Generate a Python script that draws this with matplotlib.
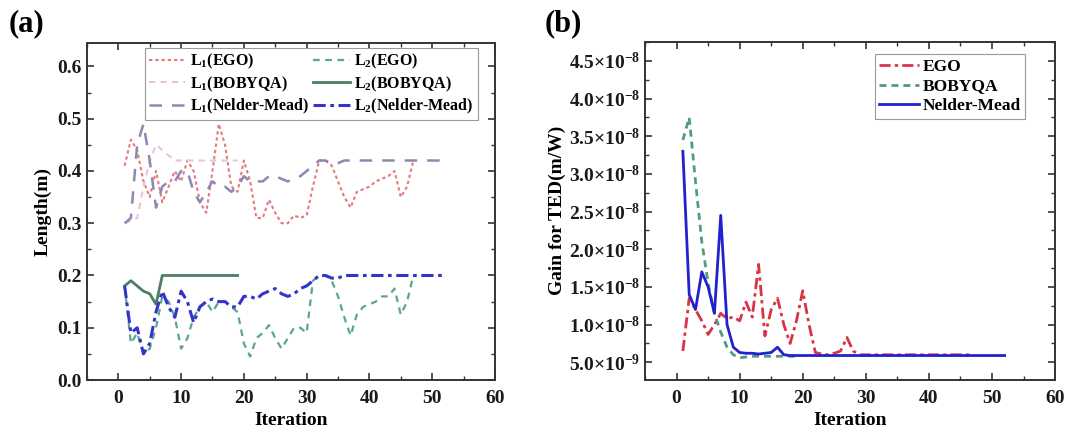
import numpy as np
import matplotlib
matplotlib.use("Agg")
import matplotlib.pyplot as plt
from matplotlib.ticker import MultipleLocator, FixedLocator, FuncFormatter

# ---------------- data (panel a: lengths in m) ----------------
L1_EGO = [0.41, 0.46, 0.44, 0.38, 0.35, 0.40, 0.34, 0.37, 0.40, 0.38,
          0.42, 0.40, 0.34, 0.32, 0.40, 0.49, 0.45, 0.37, 0.36, 0.42,
          0.38, 0.31, 0.31, 0.345, 0.32, 0.30, 0.30, 0.315, 0.31, 0.315,
          0.37, 0.42, 0.42, 0.41, 0.38, 0.35, 0.33, 0.36, 0.365, 0.37,
          0.38, 0.385, 0.39, 0.40, 0.35, 0.37, 0.42]
L2_EGO = [0.18, 0.07, 0.09, 0.05, 0.06, 0.10, 0.16, 0.15, 0.12, 0.06,
          0.08, 0.12, 0.14, 0.15, 0.13, 0.15, 0.15, 0.14, 0.13, 0.07,
          0.045, 0.08, 0.09, 0.105, 0.08, 0.06, 0.08, 0.10, 0.10, 0.09,
          0.19, 0.20, 0.20, 0.19, 0.16, 0.12, 0.085, 0.125, 0.14, 0.145,
          0.15, 0.16, 0.16, 0.175, 0.125, 0.15, 0.20]
L1_BOBYQA = [0.30, 0.305, 0.31, 0.37, 0.42, 0.45, 0.44, 0.43, 0.42, 0.42,
             0.42, 0.42, 0.42, 0.42, 0.42, 0.42, 0.42, 0.42, 0.42]
L2_BOBYQA = [0.18, 0.19, 0.18, 0.17, 0.165, 0.145, 0.20, 0.20, 0.20, 0.20,
             0.20, 0.20, 0.20, 0.20, 0.20, 0.20, 0.20, 0.20, 0.20]
L1_NM = [0.30, 0.31, 0.45, 0.49, 0.42, 0.33, 0.37, 0.38, 0.38, 0.40,
         0.40, 0.36, 0.34, 0.36, 0.38, 0.37, 0.37, 0.36, 0.37, 0.39,
         0.38, 0.38, 0.38, 0.39, 0.39, 0.385, 0.38, 0.385, 0.39, 0.40,
         0.41, 0.42, 0.42, 0.415, 0.415, 0.42, 0.42, 0.42, 0.42, 0.42,
         0.42, 0.42, 0.42, 0.42, 0.42, 0.42, 0.42, 0.42, 0.42, 0.42,
         0.42, 0.42]
L2_NM = [0.18, 0.09, 0.10, 0.05, 0.07, 0.13, 0.17, 0.14, 0.12, 0.17,
         0.15, 0.11, 0.14, 0.15, 0.155, 0.15, 0.15, 0.14, 0.14, 0.16,
         0.16, 0.155, 0.165, 0.17, 0.175, 0.165, 0.16, 0.165, 0.175, 0.18,
         0.19, 0.20, 0.20, 0.195, 0.195, 0.20, 0.20, 0.20, 0.20, 0.20,
         0.20, 0.20, 0.20, 0.20, 0.20, 0.20, 0.20, 0.20, 0.20, 0.20,
         0.20, 0.20]

# ---------------- data (panel b: gain, units of 1e-9 m/W) ----------------
GAIN_EGO = [6.5, 13.5, 12, 10.5, 8.7, 10, 11.5, 10.8, 11, 10.5,
            13, 11, 18, 8.5, 12, 13.5, 10, 7.5, 10.5, 14.5,
            10, 6.3, 6.1, 6.0, 6.2, 6.5, 8.3, 6.5, 6.0, 6.0,
            6.0, 6.0, 6.0, 6.0, 6.0, 6.0, 6.0, 6.0, 6.0, 6.0,
            6.0, 6.0, 6.0, 6.0, 6.0, 6.0, 6.0]
GAIN_BOBYQA = [34.5, 37.5, 29, 21, 15.5, 11.5, 9, 7, 6, 5.6,
               5.7, 5.8, 5.8, 5.8, 5.8, 5.8, 5.8, 5.8, 5.8]
GAIN_NM = [33, 14, 12, 17, 15, 11.5, 24.5, 10, 7, 6.3,
           6.2, 6.2, 6.1, 6.2, 6.3, 7.0, 6.0] + [5.9] * 35

GAIN_UNIT = 1e-9
XTICKS = [0, 10, 20, 30, 40, 50, 60]
YTICKS_A = [0.0, 0.1, 0.2, 0.3, 0.4, 0.5, 0.6]
YTICKS_B = [5e-9, 1e-8, 1.5e-8, 2e-8, 2.5e-8, 3e-8, 3.5e-8, 4e-8, 4.5e-8]


def it(vals):
    return np.arange(1, len(vals) + 1)


# ---------------- style ----------------
plt.rcParams['font.family'] = ['Liberation Serif', 'DejaVu Serif']
plt.rcParams['font.weight'] = 'bold'
plt.rcParams['mathtext.fontset'] = 'custom'
plt.rcParams['mathtext.rm'] = 'Liberation Serif:bold'
plt.rcParams['mathtext.it'] = 'Liberation Serif:bold'
plt.rcParams['mathtext.bf'] = 'Liberation Serif:bold'

FRAME = '#333333'
fig = plt.figure(figsize=(10.83, 4.38), dpi=100)
axA = fig.add_axes([0.0803, 0.1324, 0.3767, 0.7696])
axB = fig.add_axes([0.5956, 0.1324, 0.3786, 0.7726])


def style_axes(ax):
    for s in ax.spines.values():
        s.set_color(FRAME)
        s.set_linewidth(1.4)
    ax.tick_params(which='both', direction='in', top=True, right=True,
                   colors=FRAME, labelcolor='#1a1a1a', labelsize=14)
    ax.tick_params(which='major', length=5, width=1.2)
    ax.tick_params(axis='x', which='major', pad=7)
    ax.tick_params(which='minor', length=3, width=1.0)
    ax.xaxis.set_major_locator(FixedLocator(XTICKS))
    ax.xaxis.set_minor_locator(MultipleLocator(5))
    ax.set_xlim(-5, 60)
    ax.set_xlabel('Iteration', fontsize=14, fontweight='bold', labelpad=4)


# ---------------- panel (a) ----------------
la1, = axA.plot(it(L1_EGO), L1_EGO, color='#e8797c', lw=1.5, ls=(0, (1.6, 1.4)))
lb1, = axA.plot(it(L1_BOBYQA), L1_BOBYQA, color='#e9c3dc', lw=1.5, ls=(0, (3, 2.5)))
lc1, = axA.plot(it(L1_NM), L1_NM, color='#8c88b4', lw=1.8, ls=(0, (5, 4)))
la2, = axA.plot(it(L2_EGO), L2_EGO, color='#5aa68e', lw=1.6, ls=(0, (3, 2.5)))
lb2, = axA.plot(it(L2_BOBYQA), L2_BOBYQA, color='#4d7d62', lw=2.0, ls='-')
lc2, = axA.plot(it(L2_NM), L2_NM, color='#3434cc', lw=2.2, ls=(0, (4, 1.5, 1.2, 1.5)))

style_axes(axA)
axA.set_ylim(0, 0.645)
axA.yaxis.set_major_locator(FixedLocator(YTICKS_A))
axA.yaxis.set_minor_locator(MultipleLocator(0.05))
axA.yaxis.set_major_formatter(FuncFormatter(lambda v, p: f'{v:.1f}'))
axA.set_ylabel('Length(m)', fontsize=14, fontweight='bold', labelpad=4)

legA = axA.legend([la1, lb1, lc1, la2, lb2, lc2],
                  [r'L$_{1}$(EGO)', r'L$_{1}$(BOBYQA)', r'L$_{1}$(Nelder-Mead)',
                   r'L$_{2}$(EGO)', r'L$_{2}$(BOBYQA)', r'L$_{2}$(Nelder-Mead)'],
                  ncol=2, loc='upper right', bbox_to_anchor=(0.958, 0.985),
                  fontsize=11.5, fancybox=False, framealpha=1,
                  edgecolor='#999999', handlelength=2.3, handletextpad=0.3,
                  columnspacing=0.2, borderpad=0.25, labelspacing=0.2,
                  borderaxespad=0.0)
legA.get_frame().set_linewidth(0.8)

# ---------------- panel (b) ----------------
gE = np.array(GAIN_EGO) * GAIN_UNIT
gB = np.array(GAIN_BOBYQA) * GAIN_UNIT
gN = np.array(GAIN_NM) * GAIN_UNIT
pb1, = axB.plot(it(GAIN_EGO), gE, color='#d93445', lw=2.0, ls=(0, (4, 1.5, 1.2, 1.5)))
pb2, = axB.plot(it(GAIN_BOBYQA), gB, color='#4f9c84', lw=2.0, ls=(0, (2.5, 1.8)))
pb3, = axB.plot(it(GAIN_NM), gN, color='#2222cc', lw=2.0, ls='-')

style_axes(axB)
axB.set_ylim(2.65e-9, 4.756e-8)
axB.yaxis.set_major_locator(FixedLocator(YTICKS_B))
axB.yaxis.set_minor_locator(MultipleLocator(2.5e-9))


def sci_fmt(v, p):
    if v == 0:
        return '0'
    e = int(np.floor(np.log10(abs(v)) + 1e-9))
    m = v / 10 ** e
    return f'{m:.1f}' + r'$\times$10$^{' + str(e) + r'}$'


axB.yaxis.set_major_formatter(FuncFormatter(sci_fmt))
axB.set_ylabel('Gain for TED(m/W)', fontsize=14, fontweight='bold', labelpad=2)

legB = axB.legend([pb1, pb2, pb3], ['EGO', 'BOBYQA', 'Nelder-Mead'],
                  loc='upper right', bbox_to_anchor=(0.927, 0.962),
                  fontsize=12.5, fancybox=False, framealpha=1,
                  edgecolor='#999999', handlelength=2.3, handletextpad=0.2,
                  borderpad=0.25, labelspacing=0.2, borderaxespad=0.0)
legB.get_frame().set_linewidth(0.8)

# ---------------- panel letters ----------------
fig.text(0.008, 0.945, '(a)', fontsize=22, fontweight='bold', va='center', ha='left')
fig.text(0.503, 0.945, '(b)', fontsize=22, fontweight='bold', va='center', ha='left')

fig.savefig('out.png', dpi=100)
